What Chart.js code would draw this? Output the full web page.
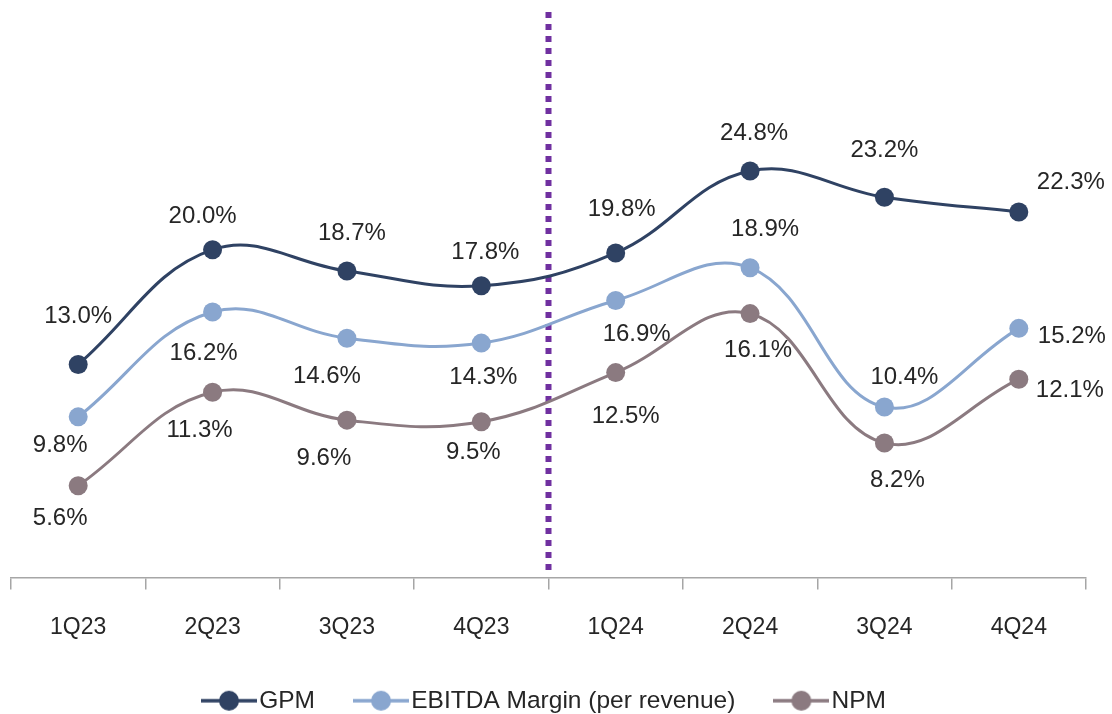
<!DOCTYPE html>
<html>
<head>
<meta charset="utf-8">
<script src="https://cdn.jsdelivr.net/npm/chart.js@4.4.1/dist/chart.umd.min.js"></script>
<style>
  body { margin: 0; background: #fff; }
</style>
</head>
<body>
<canvas id="marginChart" width="1112" height="714"></canvas>
<script>
const quarters = ['1Q23', '2Q23', '3Q23', '4Q23', '1Q24', '2Q24', '3Q24', '4Q24']
const gpm = [13.0, 20.0, 18.7, 17.8, 19.8, 24.8, 23.2, 22.3]
const ebitdaMargin = [9.8, 16.2, 14.6, 14.3, 16.9, 18.9, 10.4, 15.2]
const npm = [5.6, 11.3, 9.6, 9.5, 12.5, 16.1, 8.2, 12.1]
const seriesNames = ['GPM', 'EBITDA Margin (per revenue)', 'NPM']
const seriesColors = ['#2f4263', '#89a6cf', '#8b7a80']

const FONT = '"Liberation Sans", Arial, sans-serif'
const TEXT = '#262626'

// legend marker: short line with a dot in the middle
let legendMarker = (color) => {
  const c = document.createElement('canvas')
  c.width = 56
  c.height = 22
  const g = c.getContext('2d')
  g.strokeStyle = color
  g.lineWidth = 3.5
  g.beginPath(); g.moveTo(0, 11); g.lineTo(56, 11); g.stroke()
  g.fillStyle = color
  g.beginPath(); g.arc(28, 11, 10, 0, Math.PI * 2); g.fill()
  return c
}
const markers = seriesColors.map(legendMarker)

// value labels next to each point, offsets per point
const pointLabels = {
  id: 'pointLabels',
  afterDatasetsDraw(chart) {
    const ctx = chart.ctx
    ctx.save()
    ctx.font = '24px ' + FONT
    ctx.fillStyle = TEXT
    ctx.textAlign = 'center'
    ctx.textBaseline = 'middle'
    chart.data.datasets.forEach((ds, i) => {
      chart.getDatasetMeta(i).data.forEach((pt, j) => {
        const [dx, dy] = ds.labelOffsets[j]
        ctx.fillText(ds.data[j].toFixed(1) + '%', pt.x + dx, pt.y + dy)
      })
    })
    ctx.restore()
  }
}

// dotted purple line between 2023 and 2024
const periodDivider = {
  id: 'periodDivider',
  beforeDatasetsDraw(chart) {
    const x = chart.scales.x.getPixelForValue(3.5)
    const { top, bottom } = chart.chartArea
    const ctx = chart.ctx
    ctx.save()
    ctx.strokeStyle = '#7030a0'
    ctx.lineWidth = 6
    ctx.setLineDash([6, 6])
    ctx.beginPath()
    ctx.moveTo(x, top)
    ctx.lineTo(x, bottom - 6)
    ctx.stroke()
    ctx.restore()
  }
}

let makeSeries = (i, data, labelOffsets) => ({
  label: seriesNames[i],
  data: data,
  borderColor: seriesColors[i],
  backgroundColor: seriesColors[i],
  pointBackgroundColor: seriesColors[i],
  pointBorderWidth: 0,
  pointRadius: 9.5,
  pointHoverRadius: 9.5,
  borderWidth: 3,
  tension: 0.4,
  clip: false,
  labelOffsets: labelOffsets
})

const ctx = document.getElementById('marginChart').getContext('2d')
const marginChart = new Chart(ctx, {
  type: 'line',
  data: {
    labels: quarters,
    datasets: [
      makeSeries(0, gpm, [[0, -48], [-10, -33], [5, -38], [4, -33], [6, -44], [4, -38], [0, -47], [52, -30]]),
      makeSeries(1, ebitdaMargin, [[-18, 29], [-9, 41], [-20, 38], [2, 34], [21, 34], [15, -38], [20, -30], [53, 8]]),
      makeSeries(2, npm, [[-18, 33], [-13, 38], [-23, 38], [-8, 31], [10, 44], [8, 37], [13, 37], [51, 11]])
    ]
  },
  options: {
    responsive: false,
    animation: false,
    layout: { padding: { left: 11, right: 26, top: 12, bottom: -9 } },
    scales: {
      y: { display: false, min: 0, max: 34.5 },
      x: {
        offset: true,
        afterFit: (scale) => { scale.height = 63 },
        grid: {
          offset: true,
          drawOnChartArea: false,
          drawTicks: true,
          tickLength: 12,
          color: '#a6a6a6',
          lineWidth: 1.5
        },
        border: { color: '#a6a6a6', width: 1.5 },
        ticks: { font: { family: FONT, size: 23 }, color: TEXT, padding: 24 }
      }
    },
    plugins: {
      tooltip: { enabled: false },
      legend: {
        position: 'bottom',
        labels: {
          usePointStyle: true,
          pointStyleWidth: 36,
          padding: 48,
          color: TEXT,
          font: { family: FONT, size: 24.5 },
          generateLabels: (chart) => Chart.defaults.plugins.legend.labels.generateLabels(chart)
            .map((item, i) => ({ ...item, pointStyle: markers[i] }))
        }
      }
    }
  },
  plugins: [periodDivider, pointLabels]
})
</script>
</body>
</html>
